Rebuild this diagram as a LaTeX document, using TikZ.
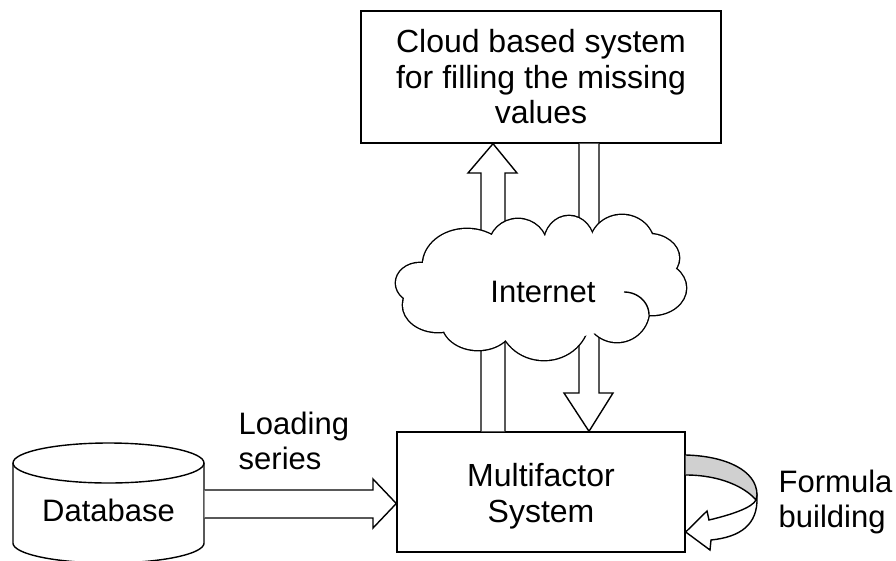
\documentclass[tikz,border=0pt]{standalone}
\usepackage{fontspec}
\setmainfont{Liberation Sans}
\usetikzlibrary{calc}
\definecolor{bandgray}{RGB}{208,208,208}
\begin{document}
\begin{tikzpicture}[x=1pt,y=-1pt,line width=1.4pt,line join=miter,
  every node/.style={font=\fontsize{31}{35.5}\selectfont,inner sep=0pt},
  bigtext/.style={font=\fontsize{32}{35.5}\selectfont},
  boxnode/.style={draw,fill=white,align=center},
  blk/.style={draw,fill=white},
  lbl/.style={align=left,anchor=west}]
\useasboundingbox (0,0) rectangle (896,560);

% boxes
\node[boxnode,bigtext,minimum width=360pt,minimum height=132pt] (cs) at (541,77)
  {Cloud based system\\for filling the missing\\values};
\node[boxnode,minimum width=288pt,minimum height=120pt] (mf) at (541,492) {};
\node[align=center,bigtext] (mftext) at (541,496) {Multifactor\\System};

% block arrows between box and cloud system
\draw[blk] (481,0 |- mf.north) -- (481,173) -- (468,173) -- (493,0 |- cs.south)
  -- (517,173) -- (505,173) -- (505,0 |- mf.north);
\draw[blk] (579,0 |- cs.south) -- (579,393) -- (564,393) -- (589,0 |- mf.north)
  -- (613,393) -- (599,393) -- (599,0 |- cs.south);

% cloud
\def\cloudlist{420/283/24/20, 438/305/35/27, 478/322/36/28, 544/318/45/42,
  617/310/32/32, 652/288/34/27, 648/258/31/24, 622/245/32/30, 569/244/25/28,
  518/247/29/28, 467/265/44/36}
\foreach \cx/\cy/\rx/\ry in \cloudlist
  \draw[line width=2.8pt] (\cx,\cy) ellipse [x radius=\rx pt, y radius=\ry pt];
\foreach \cx/\cy/\rx/\ry in \cloudlist
  \fill[white] (\cx,\cy) ellipse [x radius=\rx pt, y radius=\ry pt];
\fill[white] (545,290) ellipse [x radius=100pt, y radius=50pt];
% inner stroke of the cloud outline
\draw plot[domain=270:360,samples=30,variable=\t] ({624+25*cos(\t)},{315+23*sin(\t)});
\node (inet) at (543,292) {Internet};

% database cylinder
\draw[fill=white] (13,463) -- (13,543)
  -- plot[domain=180:360,samples=60,variable=\t] ({108.5+95.5*cos(\t)},{543-20*sin(\t)})
  -- (204,463);
\draw[fill=white] (108.5,463) ellipse [x radius=95.5pt, y radius=20pt];
\node[minimum width=191pt] (db) at (108.5,510) {Database};

% loading arrow
\draw[blk] (db.east |- 0,490) -- (373,490) -- (373,479) -- (mf.west |- 0,503.5)
  -- (373,528) -- (373,518) -- (db.east |- 0,518);
\node[lbl] (ls) at (238,441) {Loading\\series};

% curved self arrow
\draw[fill=bandgray] (mf.east |- 0,455) .. controls (725,456) and (757,470) .. (757,495)
  -- (756,500) .. controls (745,487) and (720,475) .. (mf.east |- 0,475);
\draw[fill=white] (756,500) .. controls (752,508) and (730,515) .. (709,520)
  -- (707,511) -- (mf.east |- 0,532) -- (710,550) -- (711,540)
  .. controls (740,537) and (758,525) .. (757,497) -- cycle;
\node[lbl] (fb) at (778,502) {Formula\\building};
\end{tikzpicture}
\end{document}
